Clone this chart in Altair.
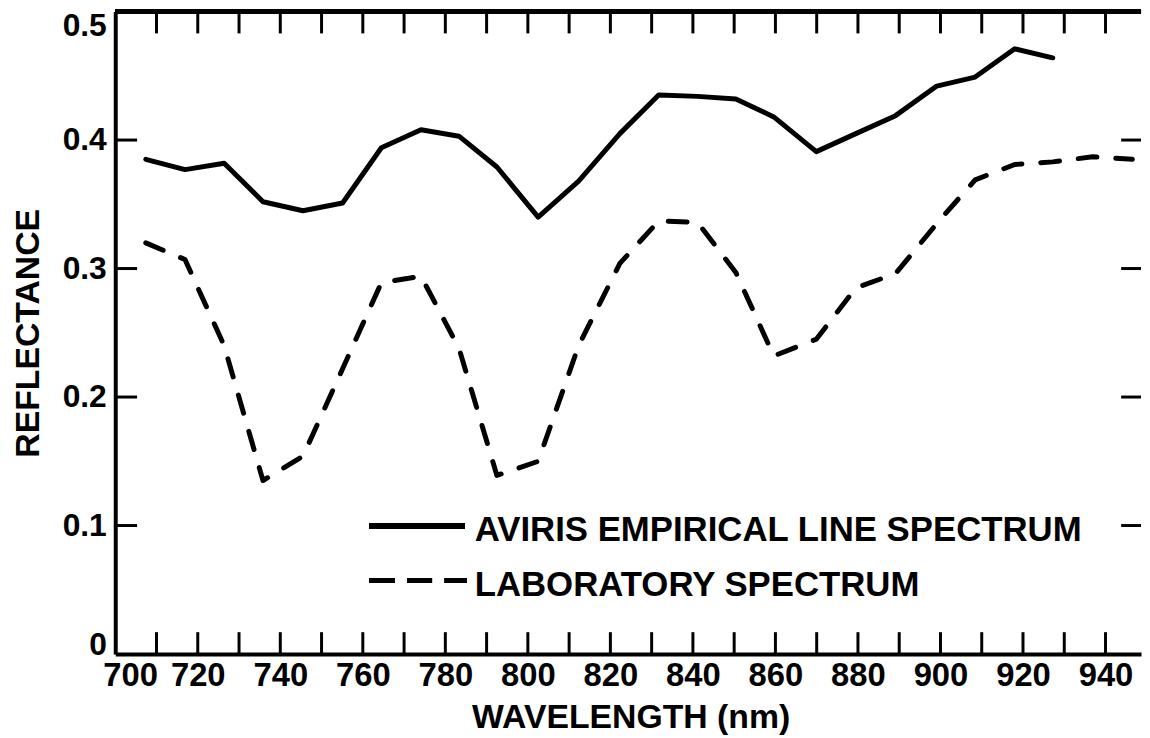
import altair as alt
import pandas as pd

# ---- data ----
wavelength = [707.4, 716.9, 726.4, 735.8, 745.5, 755.1, 764.5, 774.1, 783.3, 792.5,
              802.5, 812.3, 822.3, 831.7, 841.1, 850.4, 859.6, 869.9, 879.5, 889.1,
              899.1, 908.4, 918.0, 927.2, 936.9, 946.5]
aviris = [0.385, 0.377, 0.382, 0.352, 0.345, 0.351, 0.394, 0.408, 0.403, 0.379,
          0.340, 0.368, 0.405, 0.435, 0.434, 0.432, 0.418, 0.391, 0.405, 0.419,
          0.442, 0.449, 0.471, 0.464]
laboratory = [0.320, 0.307, 0.240, 0.135, 0.154, 0.222, 0.289, 0.294, 0.238, 0.139,
              0.150, 0.240, 0.304, 0.337, 0.336, 0.297, 0.232, 0.245, 0.285, 0.296,
              0.335, 0.369, 0.381, 0.383, 0.387, 0.385]
x_labels = [700, 720, 740, 760, 780, 800, 820, 840, 860, 880, 900, 920, 940]
x_ticks = [710, 720, 730, 740, 750, 760, 770, 780, 790, 800, 810, 820, 830, 840,
           850, 860, 870, 880, 890, 900, 910, 920, 930, 940]
y_labels = [0, 0.1, 0.2, 0.3, 0.4, 0.5]
y_ticks = [0.1, 0.2, 0.3, 0.4]
legend_labels = ["AVIRIS EMPIRICAL LINE SPECTRUM", "LABORATORY SPECTRUM"]

W, H = 1033, 647
FONT = "Liberation Sans"

df_av = pd.DataFrame({"wl": wavelength[:len(aviris)], "r": aviris})
df_lab = pd.DataFrame({"wl": wavelength, "r": laboratory})
df_xt = pd.DataFrame({"wl": x_ticks})
df_yt = pd.DataFrame({"r": y_ticks})

xscale = alt.Scale(domain=[700, 948.6], nice=False, zero=False)
yscale = alt.Scale(domain=[0, 0.5], nice=False, zero=True)

xaxis = alt.Axis(
    values=x_labels, format="d", ticks=False, grid=False,
    domainColor="black", domainWidth=4,
    labelFont=FONT, labelFontSize=33, labelFontWeight="bold", labelColor="black",
    labelPadding=6, labelFlush=False, labelOverlap=False, labelBound=False,
    labelOffset={"condition": {"test": "datum.value == 700", "value": 15}, "value": 0},
    title="WAVELENGTH (nm)", titleFont=FONT, titleFontSize=34, titleFontWeight="bold",
    titleColor="black", titleX=519, titleY=74.5, titleAlign="center",
    titleBaseline="alphabetic",
)
yaxis = alt.Axis(
    values=y_labels, ticks=False, grid=False,
    labelExpr="datum.value == 0 ? '0' : format(datum.value, '.1f')",
    domainColor="black", domainWidth=4,
    labelFont=FONT, labelFontSize=32, labelFontWeight="bold", labelColor="black",
    labelPadding=9, labelFlush=False, labelOverlap=False, labelBound=False,
    labelOffset={"condition": [{"test": "datum.value == 0.5", "value": 14},
                               {"test": "datum.value == 0", "value": -10}], "value": 0},
    title="REFLECTANCE", titleFont=FONT, titleFontSize=34, titleFontWeight="bold",
    titleColor="black", titleAngle=270, titleX=-87.5, titleY=H / 2,
    titleAlign="center", titleBaseline="middle",
)


def X():
    return alt.X("wl:Q", scale=xscale, axis=xaxis)


def Y():
    return alt.Y("r:Q", scale=yscale, axis=yaxis)


av_line = alt.Chart(df_av).mark_line(
    color="black", strokeWidth=5, strokeJoin="round", strokeCap="round"
).encode(x=X(), y=Y())
lab_line = alt.Chart(df_lab).mark_line(
    color="black", strokeWidth=5, strokeJoin="round", strokeCap="round",
    strokeDash=[19, 19]
).encode(x=X(), y=Y())

tick_bottom = alt.Chart(df_xt).mark_rule(color="black", strokeWidth=3).encode(
    x=X(), y=alt.value(H), y2=alt.value(H - 22))
tick_top = alt.Chart(df_xt).mark_rule(color="black", strokeWidth=3).encode(
    x=X(), y=alt.value(0), y2=alt.value(22))
tick_left = alt.Chart(df_yt).mark_rule(color="black", strokeWidth=3).encode(
    y=Y(), x=alt.value(0), x2=alt.value(22))
tick_right = alt.Chart(df_yt).mark_rule(color="black", strokeWidth=3).encode(
    y=Y(), x=alt.value(W - 20), x2=alt.value(W))
top_border = alt.Chart(df_xt).mark_rule(color="black", strokeWidth=4).encode(
    x=alt.value(0), x2=alt.value(W), y=alt.value(0))

# legend (manual)
leg_solid = alt.Chart(df_xt).mark_rule(color="black", strokeWidth=5).encode(
    x=alt.value(256), x2=alt.value(352), y=alt.value(518))
leg_dash = alt.Chart(df_xt).mark_rule(color="black", strokeWidth=5,
                                      strokeDash=[25, 13]).encode(
    x=alt.value(256), x2=alt.value(354), y=alt.value(573))
leg_t1 = alt.Chart(pd.DataFrame({"label": [legend_labels[0]]})).mark_text(
    font=FONT, fontSize=35, fontWeight="bold", color="black",
    align="left", baseline="middle").encode(
    text="label:N", x=alt.value(362), y=alt.value(522.5))
leg_t2 = alt.Chart(pd.DataFrame({"label": [legend_labels[1]]})).mark_text(
    font=FONT, fontSize=35, fontWeight="bold", color="black",
    align="left", baseline="middle").encode(
    text="label:N", x=alt.value(362), y=alt.value(577.5))

chart = alt.layer(
    av_line, lab_line, tick_bottom, tick_top, tick_left, tick_right, top_border,
    leg_solid, leg_dash, leg_t1, leg_t2,
).properties(
    width=W, height=H,
    autosize=alt.AutoSizeParams(type="none"),
    padding={"left": 108, "top": 1, "right": 1, "bottom": 84},
    background="white",
).configure_view(stroke=None)

chart.save("out.html", embed_options={"renderer": "svg", "actions": False})
